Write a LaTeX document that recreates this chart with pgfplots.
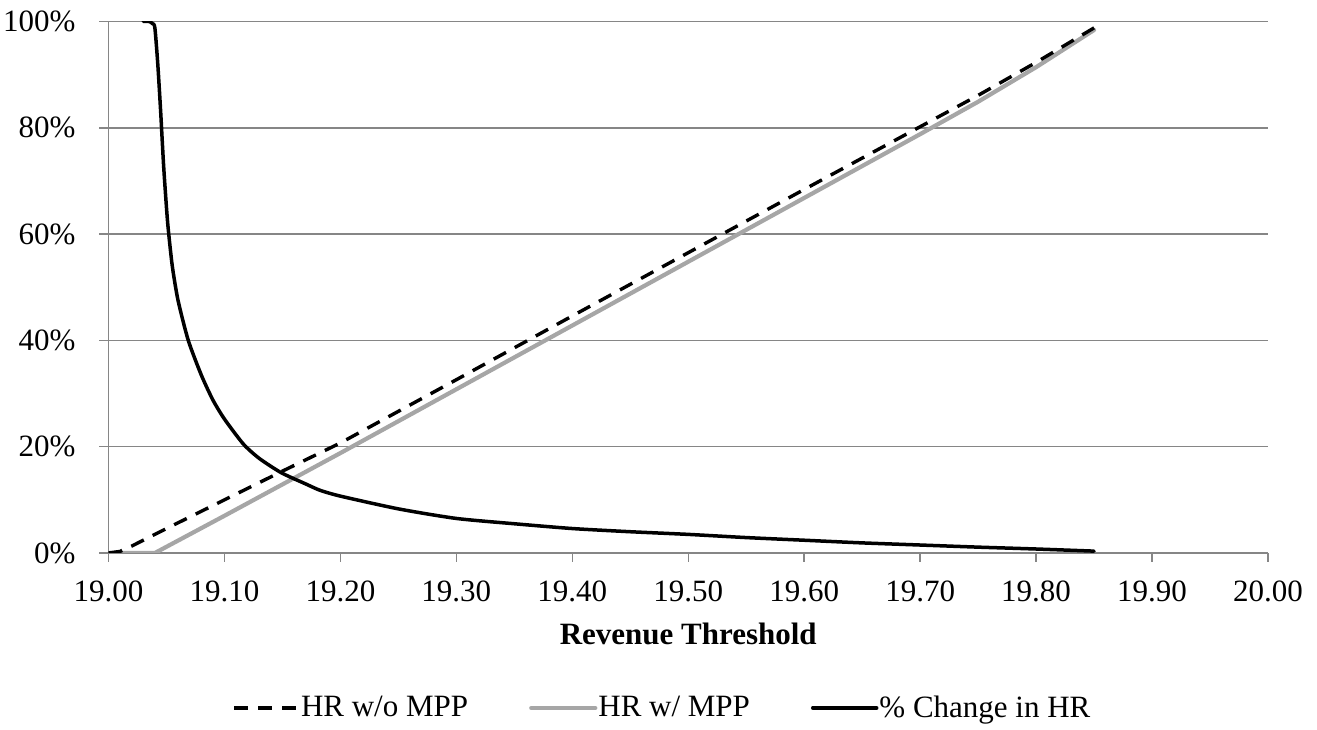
\documentclass[border=0pt]{standalone}
\usepackage{fontspec}
\setmainfont{Liberation Serif}
\usepackage{pgfplots}
\pgfplotsset{compat=1.18}
\definecolor{gridc}{RGB}{134,134,134}
\definecolor{lgray}{RGB}{166,166,166}
\pgfplotstableread{
x y
19.00 0
19.01 0.3
19.02 1.3
19.05 4.6
19.10 10.0
19.15 15.4
19.20 20.7
19.30 32.6
19.40 44.6
19.50 56.5
19.60 68.4
19.70 80.2
19.75 86.1
19.80 92.3
19.85 98.8
}\withoutmpp
\pgfplotstableread{
x y
19.00 0
19.04 0
19.10 7.0
19.15 12.9
19.20 18.8
19.30 30.8
19.40 42.8
19.50 54.8
19.60 66.8
19.70 78.8
19.75 84.9
19.80 91.4
19.85 98.4
}\withmpp
\pgfplotstableread{
x y
19.030 100
19.035 100
19.038 99.6
19.040 98.8
19.0425 92
19.045 83
19.0475 73
19.050 65
19.0515 61
19.055 54
19.060 47.5
19.0688 40
19.080 33.5
19.090 28.8
19.100 25.2
19.1163 20.5
19.130 17.8
19.149 15.1
19.170 13.0
19.1824 11.8
19.200 10.7
19.250 8.3
19.300 6.5
19.350 5.5
19.400 4.6
19.450 4.0
19.500 3.5
19.550 2.9
19.600 2.4
19.650 1.9
19.700 1.5
19.750 1.1
19.800 0.75
19.850 0.35
}\pctchange
\begin{document}
\begin{tikzpicture}[font=\fontsize{15.5}{18}\selectfont]
\begin{axis}[
  name=ax,
  scale only axis,
  width=579.75pt, height=265.75pt,
  xmin=19, xmax=20, ymin=0, ymax=100,
  xtick={19,19.1,19.2,19.3,19.4,19.5,19.6,19.7,19.8,19.9,20},
  ytick={0,20,40,60,80,100},
  axis x line*=bottom, axis y line*=left,
  axis line style={gridc, line width=0.75pt, -},
  ymajorgrids, grid style={gridc, line width=0.75pt},
  tick align=outside, major tick length=4.5pt,
  tick style={gridc, line width=0.75pt},
  /pgf/number format/assume math mode=true,
  xticklabel style={/pgf/number format/.cd, fixed, fixed zerofill, precision=2, /tikz/.cd, font=\fontsize{15.5}{18}\selectfont, yshift=-6pt},
  yticklabel={\pgfmathprintnumber{\tick}\%},
  yticklabel style={font=\fontsize{15.5}{18}\selectfont, xshift=-8.5pt},
  xlabel={\textbf{Revenue Threshold}},
  xlabel style={at={(axis description cs:0.5,-0.1515)}, anchor=center, font=\fontsize{15.5}{18}\selectfont},
  legend columns=3,
  legend style={at={(axis description cs:0.4774,-0.2916)}, anchor=center, draw=none,
    font=\fontsize{15.5}{18}\selectfont,
    /tikz/every even column/.append style={column sep=30pt},
    nodes={inner ysep=1.5pt, inner xsep=0.5pt}},
  legend image code/.code={\draw[#1] (0pt,0pt) -- (32pt,0pt);},
]
\addlegendimage{black, line width=1.7pt, dash pattern=on 7pt off 5pt}
\addlegendentry{HR w/o MPP}
\addlegendimage{lgray, line width=2.1pt, line cap=round}
\addlegendentry{HR w/ MPP}
\addlegendimage{black, line width=1.75pt, line cap=round}
\addlegendentry{\% Change in HR}
\addplot[lgray, line width=2.1pt, line cap=round, line join=round, forget plot] table[x=x,y=y] {\withmpp};
\addplot[black, line width=1.7pt, dash pattern=on 7pt off 5pt, forget plot] table[x=x,y=y] {\withoutmpp};
\addplot[black, line width=1.75pt, line cap=round, line join=round, smooth, tension=0.4, forget plot] table[x=x,y=y] {\pctchange};
\end{axis}
\pgfresetboundingbox
\path[use as bounding box] ([xshift=-54.25pt,yshift=-88.5pt]ax.south west) rectangle ([xshift=24.5pt,yshift=10.75pt]ax.north east);
\end{tikzpicture}
\end{document}
